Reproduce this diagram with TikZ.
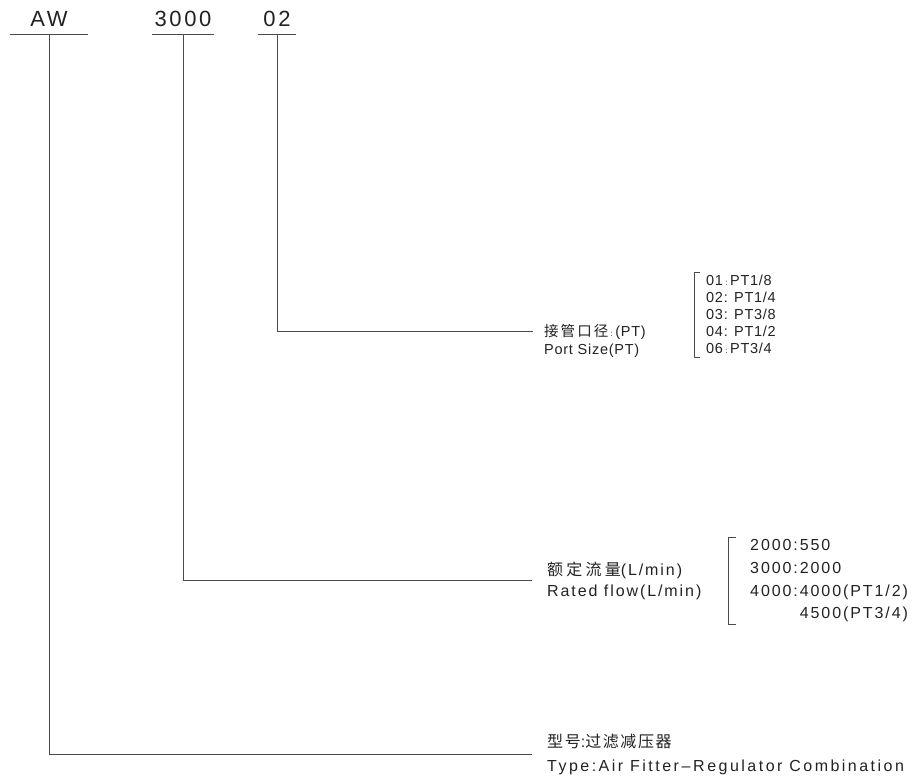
\documentclass[tikz,border=0pt]{standalone}
\usepackage{fontspec}
\setmainfont{Liberation Sans}[LetterSpace=12]
\newfontfamily\portfont{Liberation Sans}[LetterSpace=5]
\newfontfamily\typefont{Liberation Sans}[LetterSpace=15.5]
\newfontfamily\cjk{Noto Sans CJK SC}[LetterSpace=10]
\newfontfamily\cjkport{Noto Sans CJK SC}[LetterSpace=14]
\newfontfamily\cjkmid{Noto Sans CJK SC}[LetterSpace=20]
\definecolor{linegray}{HTML}{4A4A4A}
\definecolor{txt}{HTML}{222222}
\newcommand\lowcolon{\,{\fontsize{8}{8}\selectfont :}\,}
\begin{document}
\begin{tikzpicture}[x=1pt,y=-1pt,
  conn/.style={draw=linegray,line width=1pt},
  toplbl/.style={font=\fontsize{22}{22}\selectfont, text=txt, anchor=south,
    inner xsep=0pt, inner ysep=7.5pt, text depth=0pt, text height=16pt},
  smalltxt/.style={font=\fontsize{14.5}{14.5}\selectfont\portfont, text=txt, anchor=west,
    inner xsep=0pt, inner ysep=0pt, text height=10.4pt, text depth=0pt},
  midtxt/.style={font=\fontsize{16}{16}\selectfont, text=txt, anchor=west,
    inner xsep=0pt, inner ysep=0pt, text height=11.5pt, text depth=0pt}]
\useasboundingbox (0,0) rectangle (917,779);

% top code labels
\node[toplbl, minimum width=78pt] (aw) at (49,34.5) {AW};
\node[toplbl, minimum width=61pt] (n3000) at (183,34.5) {3000};
\node[toplbl, minimum width=38pt] (n02) at (277,34.5) {02};
\draw[conn] (aw.south west) -- (aw.south east);
\draw[conn] (n3000.south west) -- (n3000.south east);
\draw[conn] (n02.south west) -- (n02.south east);

% port size
\node[smalltxt, inner xsep=11pt] (pzh) at (533,331) {{\cjkport 接管口径}\lowcolon(PT)};
\node[smalltxt] (pen) at (544,349) {Port Size(PT)};
\draw[conn] (n02.south) |- (pzh.west);

\node[smalltxt] (p1) at (706,280) {01\lowcolon PT1/8};
\node[smalltxt] (p2) at (706,297) {02: PT1/4};
\node[smalltxt] (p3) at (706,314) {03: PT3/8};
\node[smalltxt] (p4) at (706,331) {04: PT1/2};
\node[smalltxt] (p6) at (706,348) {06\lowcolon PT3/4};
\coordinate (pbt) at (694,272);
\coordinate (pbb) at (694,357);
\draw[conn] ([xshift=6pt]pbt) -- (pbt) -- (pbb) -- ([xshift=6pt]pbb);

% rated flow
\coordinate (rend) at (532,580);
\node[midtxt] (rzh) at (547,570) {{\cjkmid 额定流量}(L/min)};
\node[midtxt] (ren) at (547,591) {Rated flow(L/min)};
\draw[conn] (n3000.south) |- (rend);

\node[midtxt] (r1) at (750,545) {2000:550};
\node[midtxt] (r2) at (750,568) {3000:2000};
\node[midtxt] (r3) at (750,591) {4000:4000(PT1/2)};
\coordinate (y4) at (0,613);
\node[midtxt, anchor=east] (r4) at (r3.east |- y4) {4500(PT3/4)};
\coordinate (rbt) at (728,537);
\coordinate (rbb) at (728,624);
\draw[conn] ([xshift=8pt]rbt) -- (rbt) -- (rbb) -- ([xshift=8pt]rbb);

% type
\coordinate (tend) at (532,754);
\node[midtxt] (tzh) at (547,742) {{\cjk 型号}:{\cjk 过滤减压器}};
\node[midtxt] (ten) at (547,766) {\typefont Type:Air Fitter\,–\,Regulator Combination};
\draw[conn] (aw.south) |- (tend);
\end{tikzpicture}
\end{document}
